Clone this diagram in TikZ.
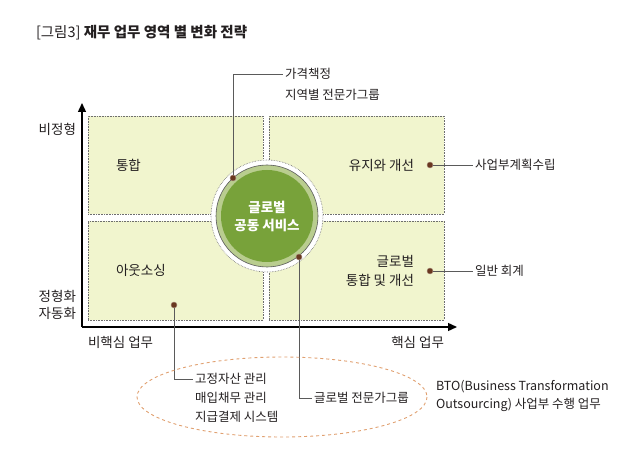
\documentclass[tikz,border=0pt]{standalone}
\usepackage{fontspec}
\setmainfont{Noto Sans CJK KR}
\usetikzlibrary{arrows.meta}
\definecolor{quadfill}{HTML}{F1F5CE}
\definecolor{quadline}{HTML}{6E6E6E}
\definecolor{darkgreen}{HTML}{78A23A}
\definecolor{lightgreen}{HTML}{B9CD8F}
\definecolor{dotbrown}{HTML}{6A3820}
\definecolor{txt}{HTML}{231F20}
\definecolor{leader}{HTML}{5A5A5A}
\definecolor{ellipseorange}{HTML}{E0A070}
\begin{document}
\begin{tikzpicture}[x=1pt,y=-1pt,
  every node/.style={text=txt, inner sep=0pt, outer sep=0pt},
  basefont/.style={font=\fontsize{13.5}{15}\selectfont},
  smallfont/.style={font=\fontsize{12.5}{14}\selectfont},
  quad/.style={draw=quadline, densely dotted, line width=0.6pt, fill=quadfill,
    minimum width=175pt, minimum height=98pt},
  bdot/.style={circle, fill=dotbrown, draw=dotbrown!60!white, line width=0.4pt, minimum size=6pt},
  leaderline/.style={draw=leader, line width=0.8pt},
  axis/.style={draw=black, line width=1.4pt, -{Triangle[length=9pt,width=8pt]}},
  note/.style={smallfont, anchor=west}
]
\useasboundingbox (0,0) rectangle (640,465);

% title
\node[anchor=west, font=\fontsize{14.5}{16}\selectfont] (title) at (36,33)
  {[그림3] \textbf{재무 업무 영역 별 변화 전략}};

% quadrants
\node[quad] (q1) at (175.5,165) {};
\node[quad, minimum height=99pt] (q3) at (175.5,270.5) {};
\node[quad] (q2) at (356.5,165) {};
\node[quad, minimum height=99pt] (q4) at (356.5,270.5) {};

% axes
\coordinate (o) at (82,327);
\coordinate (ytip) at (82,103);
\coordinate (xtip) at (457,327);
\draw[axis] (o) -- (ytip);
\draw[axis] (o) -- (xtip);

% central circle
\node[circle, fill=white, draw=quadline, densely dotted, line width=0.6pt, minimum size=112pt] (cw) at (267,216) {};
\node[circle, fill=lightgreen, draw=gray!70!black, line width=0.6pt, minimum size=102pt] (cl) at (267,216) {};
\node[circle, fill=darkgreen, minimum size=92pt, align=center, text=white,
  font=\fontsize{13.5}{18}\selectfont\bfseries] (cg) at (267,216) {글로벌\\공동 서비스};

% quadrant labels
\node[basefont, anchor=west] (l1) at (116,165) {통합};
\node[basefont, anchor=west] (l3) at (116,270) {아웃소싱};
\node[basefont, anchor=east] (l2) at (414,165) {유지와 개선};
\node[anchor=east, align=right, font=\fontsize{13.5}{19}\selectfont] (l4) at (414,270.5) {글로벌\\통합 및 개선};

% axis labels
\node[basefont, anchor=east] (ya) at (76,129) {비정형};
\node[anchor=east, align=center, font=\fontsize{13.5}{17}\selectfont] (yb) at (76,305) {정형화\\자동화};
\node[basefont, anchor=west] (xa) at (88,342) {비핵심 업무};
\node[basefont, anchor=east] (xb) at (444,342) {핵심 업무};

% dots
\node[bdot] (d1) at (233,178) {};
\node[bdot] (d2) at (299,257) {};
\node[bdot] (d3) at (174,305) {};
\node[bdot] (d4) at (430,165) {};
\node[bdot] (d5) at (430,271) {};

% annotation labels
\node[note] (n1a) at (285,74) {가격책정};
\node[note] (n1b) at (285,95) {지역별 전문가그룹};
\node[note] (n4) at (475,165) {사업부계획수립};
\node[note] (n5) at (475,271) {일반 회계};
\node[note] (n3a) at (195,379) {고정자산 관리};
\node[note] (n3b) at (195,398) {매입채무 관리};
\node[note] (n3c) at (195,417) {지급결제 시스템};
\node[note] (n2) at (314,398) {글로벌 전문가그룹};

% leaders
\draw[leaderline] (d1) |- ([xshift=-2pt]n1a.west);
\draw[leaderline] (d4) -- ([xshift=-2pt]n4.west);
\draw[leaderline] (d5) -- ([xshift=-2pt]n5.west);
\draw[leaderline] (d3) |- ([xshift=-2pt]n3a.west);
\draw[leaderline] (d2) |- ([xshift=-2pt]n2.west);

% ellipse
\draw[ellipseorange, dashed, line width=0.9pt] (282,397) ellipse [x radius=145, y radius=40];

% BTO
\node[align=left, font=\fontsize{12.5}{18}\selectfont, anchor=north west] (bto) at (436,380)
  {BTO(Business Transformation\\Outsourcing) 사업부 수행 업무};
\end{tikzpicture}
\end{document}
